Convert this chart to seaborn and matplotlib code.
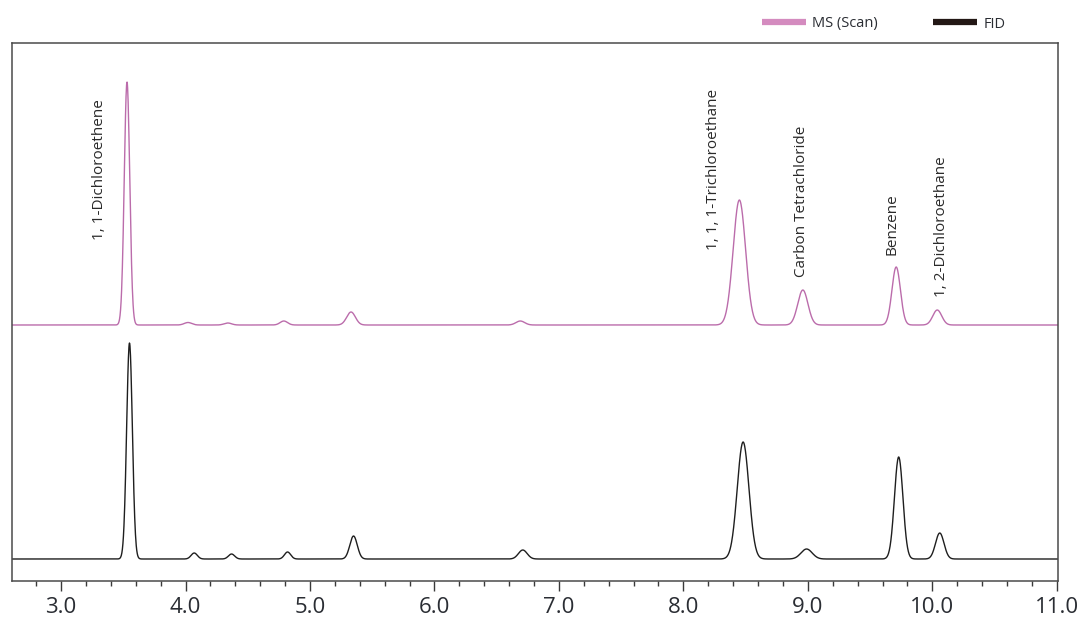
import numpy as np
import pandas as pd
import matplotlib
matplotlib.use("Agg")
import matplotlib.pyplot as plt
from matplotlib.lines import Line2D
from matplotlib.ticker import MultipleLocator, FormatStrFormatter
import seaborn as sns

# Peak tables (retention time in min, height and gaussian sigma in min)
ms_rt = [3.53, 4.02, 4.34, 4.79, 5.33, 6.69, 8.45, 8.96, 9.71, 10.04]
ms_height = [243, 2.5, 2.0, 4.0, 13, 4.0, 125, 35, 58, 15]
ms_sigma = [0.022, 0.03, 0.03, 0.03, 0.035, 0.035, 0.05, 0.041, 0.034, 0.036]
ms_baseline = 256

fid_rt = [3.55, 4.07, 4.37, 4.82, 5.35, 6.71, 8.48, 8.99, 9.73, 10.06]
fid_height = [216, 6, 5, 7, 23, 9, 117, 10, 102, 26]
fid_sigma = [0.023, 0.025, 0.025, 0.025, 0.03, 0.035, 0.047, 0.045, 0.034, 0.034]
fid_baseline = 22

compounds = ["1, 1-Dichloroethene", "1, 1, 1-Trichloroethane",
             "Carbon Tetrachloride", "Benzene", "1, 2-Dichloroethane"]
label_x = [3.313, 8.245, 8.952, 9.675, 10.076]
label_y = [341, 331, 304, 326, 284]

x_ticks = [3.0, 4.0, 5.0, 6.0, 7.0, 8.0, 9.0, 10.0, 11.0]
x_min, x_max = 2.606, 11.01

t = np.linspace(x_min, x_max, 4000)


def trace(rts, heights, sigmas, base):
    y = np.full_like(t, float(base))
    for rt, h, s in zip(rts, heights, sigmas):
        y += h * np.exp(-0.5 * ((t - rt) / s) ** 2)
    return y


df = pd.concat([
    pd.DataFrame({"time": t, "signal": trace(ms_rt, ms_height, ms_sigma, ms_baseline),
                  "detector": "MS (Scan)"}),
    pd.DataFrame({"time": t, "signal": trace(fid_rt, fid_height, fid_sigma, fid_baseline),
                  "detector": "FID"}),
])

sns.set_theme(style="white")
plt.rcParams["font.family"] = ["Open Sans", "DejaVu Sans"]

line_colors = {"MS (Scan)": "#bb6cab", "FID": "#1e1e1e"}
swatch_colors = {"MS (Scan)": "#d48bbf", "FID": "#231815"}

fig = plt.figure(figsize=(10.83, 6.19), dpi=100)
ax = fig.add_axes([12 / 1083, 1 - 581 / 619, (1058 - 12) / 1083, (581 - 43) / 619])

sns.lineplot(data=df, x="time", y="signal", hue="detector", palette=line_colors,
             estimator=None, sort=False, linewidth=1.0, legend=False, ax=ax)

ax.set_xlim(x_min, x_max)
ax.set_ylim(0, 538)
ax.set_xlabel("")
ax.set_ylabel("")
ax.set_yticks([])
ax.set_xticks(x_ticks)
ax.xaxis.set_major_formatter(FormatStrFormatter("%.1f"))
ax.xaxis.set_minor_locator(MultipleLocator(0.2))
ax.tick_params(axis="x", which="major", direction="out", length=7.5, width=1.0,
               color="#3a3a3a", pad=4, labelsize=16, labelcolor="#2a2d33", bottom=True)
ax.tick_params(axis="x", which="minor", direction="out", length=3.8, width=1.0,
               color="#3a3a3a", bottom=True)
for side in ["left", "right", "top", "bottom"]:
    ax.spines[side].set_visible(True)
    ax.spines[side].set_color("#4a4a4a")
    ax.spines[side].set_linewidth(1.1)

for name, lx, ly in zip(compounds, label_x, label_y):
    ax.text(lx, ly, name, rotation=90, ha="center", va="bottom",
            fontsize=11, color="#2a2a2a")

handles = [Line2D([0], [0], color=swatch_colors[k], lw=4.5, solid_capstyle="butt")
           for k in ["MS (Scan)", "FID"]]
fig.legend(handles, ["MS (Scan)", "FID"], loc="center left",
           bbox_to_anchor=(762 / 1083, 1 - 24 / 619), ncol=2, frameon=False,
           fontsize=10.5, handlelength=3.0, handletextpad=0.45, columnspacing=3.8,
           borderpad=0, borderaxespad=0, labelcolor="#2a2d33")

fig.savefig("out.png", dpi=100, facecolor="white")
